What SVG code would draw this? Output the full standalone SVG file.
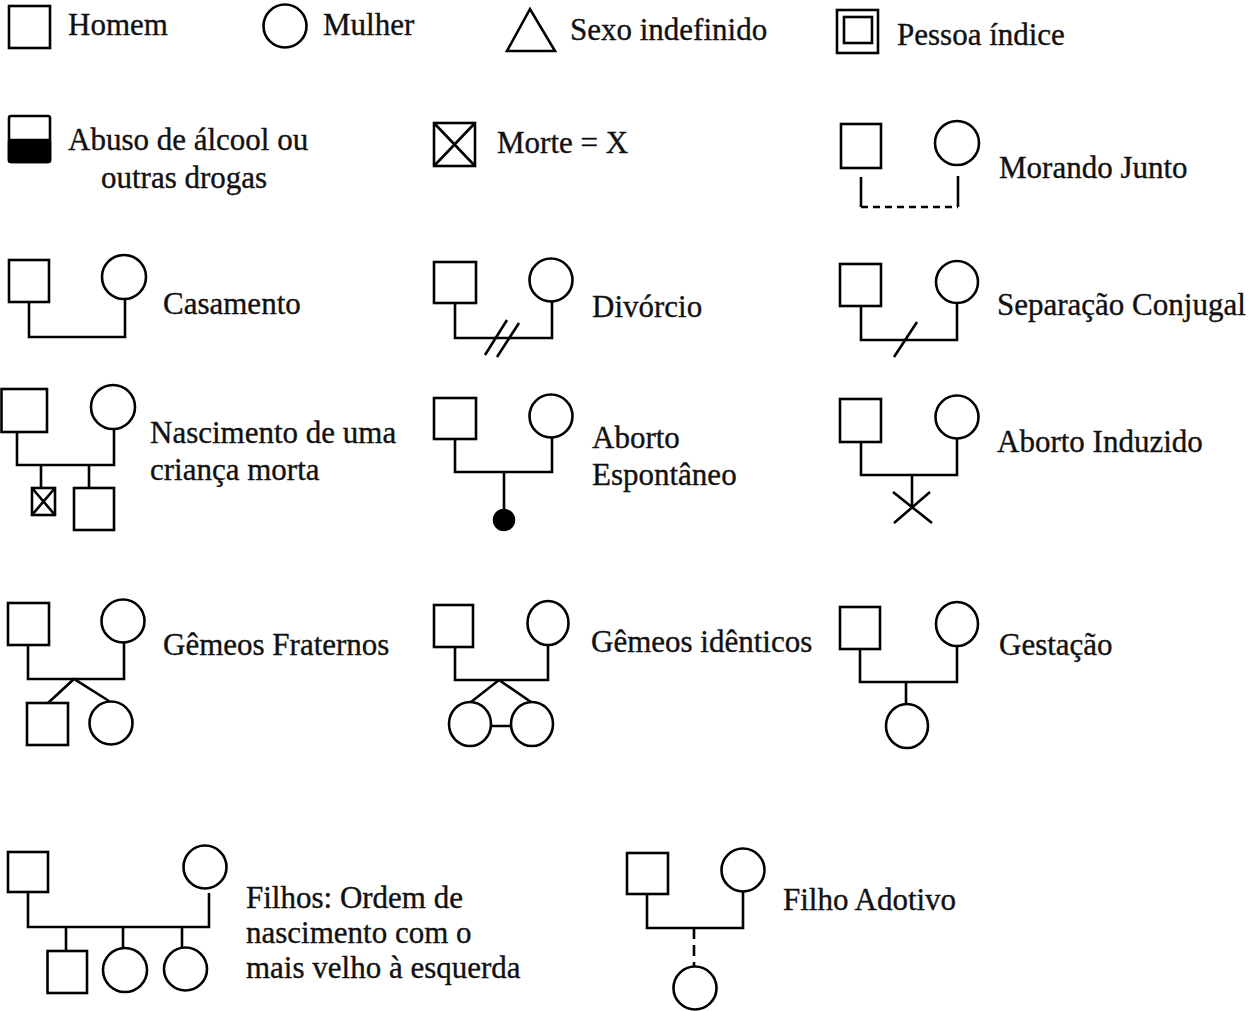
<svg xmlns="http://www.w3.org/2000/svg" width="1256" height="1011" viewBox="0 0 1256 1011">
  <style>
    .s { fill: none; stroke: #000; stroke-width: 2.6; stroke-linejoin: miter; }
    .f { fill: #000; stroke: #000; stroke-width: 2.5; }
    .d { fill: none; stroke: #000; stroke-width: 2.6; stroke-dasharray: 7 5; }
    .t { font-family: "Liberation Serif", "Times New Roman", serif; font-size: 31px; fill: #111; stroke: #111; stroke-width: 0.35; }
  </style>
  <rect width="1256" height="1011" fill="#fff"/>

  <!-- basic symbols -->
  <g id="homem">
    <rect class="s" x="9" y="6" width="41" height="42"/>
    <text class="t" x="68" y="35">Homem</text>
  </g>
  <g id="mulher">
    <circle class="s" cx="285" cy="26" r="21.5"/>
    <text class="t" x="323" y="35">Mulher</text>
  </g>
  <g id="sexo-indefinido">
    <polygon class="s" points="530,9 507,51 555,51"/>
    <text class="t" x="570" y="40">Sexo indefinido</text>
  </g>
  <g id="pessoa-indice">
    <rect class="s" x="837" y="10" width="41" height="43"/>
    <rect class="s" x="844" y="17" width="28" height="26"/>
    <text class="t" x="897" y="45">Pessoa índice</text>
  </g>

  <g id="abuso">
    <rect class="s" x="9" y="116" width="41" height="46" rx="2"/>
    <rect class="f" x="9" y="140" width="41" height="22" rx="2"/>
    <text class="t" x="68" y="150">Abuso de álcool ou</text>
    <text class="t" x="101" y="188">outras drogas</text>
  </g>
  <g id="morte">
    <rect class="s" x="434" y="123" width="41" height="43"/>
    <path class="s" d="M434,123 L475,166 M475,123 L434,166"/>
    <text class="t" x="497" y="153">Morte = X</text>
  </g>
  <g id="morando-junto">
    <rect class="s" x="841" y="124" width="40" height="44"/>
    <circle class="s" cx="957" cy="143" r="22"/>
    <text class="t" x="999" y="178">Morando Junto</text>
  </g>

  <!-- couples and offspring -->
  <g id="casamento">
    <rect class="s" x="9" y="260" width="40" height="42"/>
    <circle class="s" cx="124" cy="277" r="22"/>
    <text class="t" x="163" y="314">Casamento</text>
  </g>
  <g id="divorcio">
    <rect class="s" x="434" y="262" width="42" height="41"/>
    <circle class="s" cx="551" cy="280" r="21.5"/>
    <text class="t" x="592" y="317">Divórcio</text>
  </g>
  <g id="separacao">
    <rect class="s" x="840" y="264" width="41" height="42"/>
    <circle class="s" cx="957" cy="282" r="21"/>
    <text class="t" x="997" y="315">Separação Conjugal</text>
  </g>

  <g id="crianca-morta">
    <rect class="s" x="1.5" y="389" width="45.5" height="43"/>
    <circle class="s" cx="113" cy="407" r="22"/>
    <rect class="s" x="32" y="488" width="23" height="27"/>
    <path class="s" d="M32,488 L55,515 M55,488 L32,515"/>
    <rect class="s" x="74" y="488" width="40" height="42"/>
    <text class="t" x="150" y="443">Nascimento de uma</text>
    <text class="t" x="150" y="480">criança morta</text>
  </g>
  <g id="aborto-espontaneo">
    <rect class="s" x="434" y="398" width="42" height="41"/>
    <circle class="s" cx="551" cy="416" r="21.5"/>
    <circle class="f" cx="504" cy="520" r="10"/>
    <text class="t" x="592" y="448">Aborto</text>
    <text class="t" x="592" y="485">Espontâneo</text>
  </g>
  <g id="aborto-induzido">
    <rect class="s" x="840" y="399" width="41" height="43"/>
    <circle class="s" cx="957" cy="417" r="21.5"/>
    <path class="s" d="M893,492 L932,523 M930,492 L894,523"/>
    <text class="t" x="997" y="452">Aborto Induzido</text>
  </g>

  <g id="gemeos-fraternos">
    <rect class="s" x="8" y="603" width="41" height="42"/>
    <circle class="s" cx="123" cy="621" r="21.5"/>
    <rect class="s" x="27" y="703" width="41" height="42"/>
    <circle class="s" cx="111" cy="723" r="21.5"/>
    <text class="t" x="163" y="655">Gêmeos Fraternos</text>
  </g>
  <g id="gemeos-identicos">
    <rect class="s" x="434" y="605" width="39" height="42"/>
    <ellipse class="s" cx="548" cy="623" rx="20.5" ry="22"/>
    <ellipse class="s" cx="470" cy="724" rx="21" ry="22"/>
    <ellipse class="s" cx="532" cy="724" rx="21" ry="22"/>
    <text class="t" x="591" y="652">Gêmeos idênticos</text>
  </g>
  <g id="gestacao">
    <rect class="s" x="840" y="607" width="40" height="42"/>
    <ellipse class="s" cx="957" cy="624" rx="21" ry="22"/>
    <ellipse class="s" cx="907" cy="726" rx="21" ry="22"/>
    <text class="t" x="999" y="655">Gestação</text>
  </g>

  <g id="ordem-nascimento">
    <rect class="s" x="8" y="852" width="40" height="40"/>
    <circle class="s" cx="205" cy="867" r="21.5"/>
    <rect class="s" x="47.5" y="951" width="39.5" height="42"/>
    <circle class="s" cx="125" cy="970" r="22"/>
    <circle class="s" cx="185.5" cy="969" r="21.5"/>
    <text class="t" x="246" y="908">Filhos: Ordem de</text>
    <text class="t" x="246" y="943">nascimento com o</text>
    <text class="t" x="246" y="978">mais velho à esquerda</text>
  </g>
  <g id="filho-adotivo">
    <rect class="s" x="627" y="853" width="41" height="41"/>
    <circle class="s" cx="743" cy="870" r="21.5"/>
    <circle class="s" cx="695" cy="988" r="21.5"/>
    <text class="t" x="783" y="910">Filho Adotivo</text>
  </g>

  <!-- relationship lines -->
  <g id="connectors">
    <!-- living together -->
    <path class="s" d="M861,177 V207 M958,176 V207"/>
    <path class="d" d="M861,207 H958"/>
    <!-- marriage -->
    <path class="s" d="M29,302 V337 H125 V299"/>
    <!-- divorce -->
    <path class="s" d="M455,303 V338 H552 V301.5"/>
    <path class="s" d="M485,355 L507,320 M497,357 L519,323"/>
    <!-- separation -->
    <path class="s" d="M861,306 V340 H957 V303"/>
    <path class="s" d="M894,357 L917,322"/>
    <!-- stillbirth -->
    <path class="s" d="M17,432 V465 H114 V429 M41,465 V488 M89,465 V488"/>
    <!-- spontaneous abortion -->
    <path class="s" d="M455,439 V472 H552 V437.5 M504,472 V512"/>
    <!-- induced abortion -->
    <path class="s" d="M861,442 V475 H957 V438.5 M912,475 V507"/>
    <!-- fraternal twins -->
    <path class="s" d="M28,645 V679 H124 V642.5 M48,703 L74,679 L109,701"/>
    <!-- identical twins -->
    <path class="s" d="M455,647 V680 H548 V645 M471,702 L499,680 L531,702 M491,726 H511"/>
    <!-- pregnancy -->
    <path class="s" d="M860,649 V682 H957 V646 M906,682 V704"/>
    <!-- birth order -->
    <path class="s" d="M28,892 V927 H209 V893 M66,927 V951 M123,927 V948 M182,927 V948"/>
    <!-- adoption -->
    <path class="s" d="M647,894 V928 H743 V891.5"/>
    <path class="d" d="M694,928 V966" style="stroke-dasharray: 11 6"/>
  </g>
</svg>
